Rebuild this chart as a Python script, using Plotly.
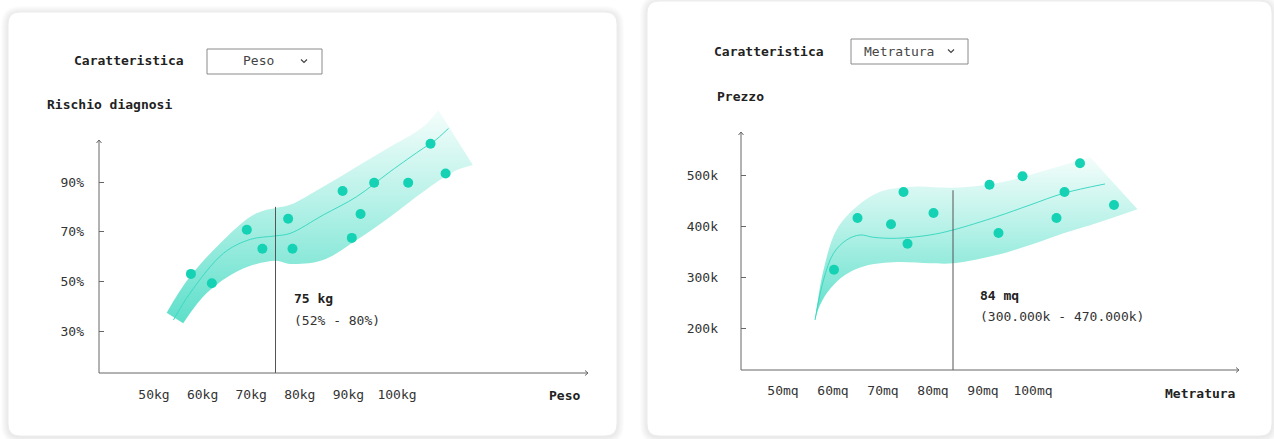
import plotly.graph_objects as go

W, H = 1274, 439
FONT = "DejaVu Sans Mono"
TEAL = "#14d2b3"
LINE_TEAL = "#3fd9c3"
TXT = "#222222"
AXIS = "#666666"

# ---------------- Rischio diagnosi / Peso ----------------
peso_ticks = [50, 60, 70, 80, 90, 100]
peso_tick_text = ["50kg", "60kg", "70kg", "80kg", "90kg", "100kg"]
rischio_ticks = [30, 50, 70, 90]
rischio_tick_text = ["30%", "50%", "70%", "90%"]

peso_pts_x = [57.6, 61.9, 69.1, 72.3, 77.6, 78.5, 88.8, 90.7, 92.5, 95.3, 102.3, 106.9, 110.0]
peso_pts_y = [53.0, 49.2, 70.8, 63.1, 75.2, 63.1, 86.4, 67.5, 77.1, 89.7, 89.7, 105.4, 93.4]

peso_fit_x = [54.0, 57.4, 64.3, 69.8, 75.0, 78.0, 84.8, 91.7, 98.6, 105.4, 107.5, 110.6]
peso_fit_y = [34.4, 45.2, 61.3, 66.9, 68.3, 69.3, 76.7, 84.1, 94.2, 103.6, 106.2, 111.6]

peso_low_x = [56.0, 60.8, 67.7, 75.0, 78.0, 84.8, 91.7, 98.6, 105.4, 112.3, 115.6]
peso_low_y = [33.1, 45.2, 54.6, 58.3, 57.0, 58.6, 66.6, 76.0, 86.1, 94.8, 96.9]
peso_up_x = [52.6, 57.4, 64.3, 69.8, 72.5, 75.0, 78.0, 84.8, 91.7, 98.6, 105.4, 108.5]
peso_up_y = [37.4, 51.9, 66.6, 76.0, 78.4, 79.5, 80.8, 88.1, 96.2, 104.2, 112.3, 119.0]

peso_sel = 75
peso_sel_lo, peso_sel_hi = 52, 80

# ---------------- Prezzo / Metratura ----------------
metr_ticks = [50, 60, 70, 80, 90, 100]
metr_tick_text = ["50mq", "60mq", "70mq", "80mq", "90mq", "100mq"]
prezzo_ticks = [200, 300, 400, 500]
prezzo_tick_text = ["200k", "300k", "400k", "500k"]

metr_pts_x = [60.2, 64.9, 71.6, 74.1, 74.9, 80.1, 91.3, 93.1, 97.9, 104.7, 106.3, 109.4, 116.2]
metr_pts_y = [314.3, 415.7, 403.3, 466.7, 365.3, 425.5, 481.0, 386.3, 497.5, 415.7, 466.7, 523.0, 441.2]

metr_fit_x = [56.4, 58.1, 60.1, 62.7, 65.4, 68.1, 72.7, 79.4, 84.0, 92.7, 99.4, 106.1, 114.4]
metr_fit_y = [215.7, 294.1, 346.5, 372.5, 382.4, 377.8, 375.9, 382.4, 392.2, 418.2, 441.2, 464.1, 482.4]

metr_low_x = [56.4, 57.4, 59.4, 62.4, 66.4, 72.8, 79.4, 84.0, 92.7, 99.4, 106.1, 113.4, 120.9]
metr_low_y = [215.7, 245.1, 276.5, 304.0, 321.6, 329.4, 326.9, 326.9, 343.1, 362.7, 385.7, 407.8, 432.7]
metr_up_x = [56.4, 58.1, 60.7, 64.7, 69.4, 76.1, 84.0, 92.7, 102.7, 111.4]
metr_up_y = [215.7, 313.7, 392.2, 437.8, 467.3, 477.1, 475.0, 483.7, 509.8, 535.3]

metr_sel = 84
metr_sel_lo, metr_sel_hi = 300, 470


def px(x):
    return x / W


def py(y):
    return 1 - y / H


def rrect(x0, y0, x1, y1, r):
    a, b, c, d = px(x0), py(y0), px(x1), py(y1)
    rx, ry = r / W, r / H
    return (f"M {a + rx},{b} L {c - rx},{b} Q {c},{b} {c},{b - ry} "
            f"L {c},{d + ry} Q {c},{d} {c - rx},{d} L {a + rx},{d} "
            f"Q {a},{d} {a},{d + ry} L {a},{b - ry} Q {a},{b} {a + rx},{b} Z")


def seg_path(points):
    return "M " + " L ".join(f"{px(x)},{py(y)}" for x, y in points)


# pixel frames of the two plot areas
L_X0, L_X1, L_Y0, L_Y1 = 99, 590, 373, 100
R_X0, R_X1, R_Y0, R_Y1 = 741, 1240, 370, 120


def kg(p):
    return 50 + (p - 154) / 4.86


def pct(p):
    return 30 + (331 - p) / 2.483


def mq(p):
    return 84 + (p - 953) / 5.0


def kp(p):
    return 200 + (328 - p) / 0.51


fig = go.Figure()

band_grad = dict(type="vertical", colorscale=[[0, "#5ddfca"], [0.55, "#b4f1e7"], [1, "#f4fdfb"]])

# left band
fig.add_trace(go.Scatter(x=peso_low_x, y=peso_low_y, mode="lines",
                         line=dict(width=0, shape="spline", smoothing=1.0),
                         xaxis="x", yaxis="y", hoverinfo="skip", showlegend=False))
fig.add_trace(go.Scatter(x=peso_up_x, y=peso_up_y, mode="lines", fill="tonexty",
                         fillgradient=dict(band_grad, start=min(peso_low_y), stop=max(peso_up_y)),
                         line=dict(width=0, shape="spline", smoothing=1.0),
                         xaxis="x", yaxis="y", hoverinfo="skip", showlegend=False))
fig.add_trace(go.Scatter(x=peso_fit_x, y=peso_fit_y, mode="lines",
                         line=dict(width=1, color=LINE_TEAL, shape="spline", smoothing=1.0),
                         xaxis="x", yaxis="y", showlegend=False))
fig.add_trace(go.Scatter(x=[peso_sel, peso_sel], y=[pct(L_Y0), peso_sel_hi], mode="lines",
                         line=dict(width=1, color="#555555"),
                         xaxis="x", yaxis="y", showlegend=False))
fig.add_trace(go.Scatter(x=peso_pts_x, y=peso_pts_y, mode="markers",
                         marker=dict(size=10, color=TEAL),
                         xaxis="x", yaxis="y", showlegend=False))

# right band
fig.add_trace(go.Scatter(x=metr_low_x, y=metr_low_y, mode="lines",
                         line=dict(width=0, shape="spline", smoothing=1.0),
                         xaxis="x2", yaxis="y2", hoverinfo="skip", showlegend=False))
fig.add_trace(go.Scatter(x=metr_up_x, y=metr_up_y, mode="lines", fill="tonexty",
                         fillgradient=dict(band_grad, start=min(metr_low_y), stop=max(metr_up_y)),
                         line=dict(width=0, shape="spline", smoothing=1.0),
                         xaxis="x2", yaxis="y2", hoverinfo="skip", showlegend=False))
fig.add_trace(go.Scatter(x=metr_fit_x, y=metr_fit_y, mode="lines",
                         line=dict(width=1, color=LINE_TEAL, shape="spline", smoothing=1.0),
                         xaxis="x2", yaxis="y2", showlegend=False))
fig.add_trace(go.Scatter(x=[metr_sel, metr_sel], y=[kp(R_Y0), metr_sel_hi], mode="lines",
                         line=dict(width=1, color="#555555"),
                         xaxis="x2", yaxis="y2", showlegend=False))
fig.add_trace(go.Scatter(x=metr_pts_x, y=metr_pts_y, mode="markers",
                         marker=dict(size=10, color=TEAL),
                         xaxis="x2", yaxis="y2", showlegend=False))

tickfont = dict(family=FONT, size=13, color="#333333")
common = dict(showgrid=False, zeroline=False, showline=False, fixedrange=True, tickfont=tickfont)

fig.update_layout(
    width=W, height=H, autosize=False,
    margin=dict(l=0, r=0, t=0, b=0),
    paper_bgcolor="white", plot_bgcolor="rgba(0,0,0,0)",
    font=dict(family=FONT, size=13, color=TXT),
    showlegend=False,
    xaxis=dict(common, domain=[px(L_X0), px(L_X1)], range=[kg(L_X0), kg(L_X1)],
               tickvals=peso_ticks, ticktext=peso_tick_text, ticks="", ticklabelstandoff=12,
               anchor="y"),
    yaxis=dict(common, domain=[py(L_Y0), py(L_Y1)], range=[pct(L_Y0), pct(L_Y1)],
               tickvals=rischio_ticks, ticktext=rischio_tick_text, ticks="inside",
               ticklen=5, tickcolor=AXIS, ticklabelstandoff=14, anchor="x"),
    xaxis2=dict(common, domain=[px(R_X0), px(R_X1)], range=[mq(R_X0), mq(R_X1)],
                tickvals=metr_ticks, ticktext=metr_tick_text, ticks="", ticklabelstandoff=11,
                anchor="y2"),
    yaxis2=dict(common, domain=[py(R_Y0), py(R_Y1)], range=[kp(R_Y0), kp(R_Y1)],
                tickvals=prezzo_ticks, ticktext=prezzo_tick_text, ticks="inside",
                ticklen=5, tickcolor=AXIS, ticklabelstandoff=22, anchor="x2"),
)

shapes = []
# card shadows and cards
for x0, y0, x1, y1 in [(8, 12, 617, 436), (647, 1, 1272, 436)]:
    for k in range(7, 0, -1):
        shapes.append(dict(type="path", xref="paper", yref="paper", layer="below",
                           path=rrect(x0 - k, y0 - k + 1, x1 + k, y1 + k + 1, 12 + k),
                           fillcolor="rgba(0,0,0,0.012)", line=dict(width=0)))
    shapes.append(dict(type="path", xref="paper", yref="paper", layer="below",
                       path=rrect(x0, y0, x1, y1, 12),
                       fillcolor="white", line=dict(width=1, color="#ececec")))

# axes with arrow tips
for (ax0, ay0, ax1, ay1) in [(99, 373, 588, 140), (741, 370, 1239, 132)]:
    shapes.append(dict(type="path", xref="paper", yref="paper",
                       path=seg_path([(ax0, ay1), (ax0, ay0), (ax1, ay0)]),
                       line=dict(width=1, color=AXIS)))
    shapes.append(dict(type="path", xref="paper", yref="paper",
                       path=seg_path([(ax0 - 2.5, ay1 + 3), (ax0, ay1), (ax0 + 2.5, ay1 + 3)]),
                       line=dict(width=1, color=AXIS)))
    shapes.append(dict(type="path", xref="paper", yref="paper",
                       path=seg_path([(ax1 - 3, ay0 - 2.5), (ax1, ay0), (ax1 - 3, ay0 + 2.5)]),
                       line=dict(width=1, color=AXIS)))

# dropdown boxes
for (bx0, by0, bx1, by1, cx, cy) in [(207, 49, 322, 74, 304, 61), (851, 39, 968, 64, 951, 51)]:
    shapes.append(dict(type="rect", xref="paper", yref="paper",
                       x0=px(bx0), y0=py(by1), x1=px(bx1), y1=py(by0),
                       line=dict(width=1, color="#8a8a8a"), fillcolor="white"))
    shapes.append(dict(type="path", xref="paper", yref="paper",
                       path=seg_path([(cx - 3, cy - 1.5), (cx, cy + 1.5), (cx + 3, cy - 1.5)]),
                       line=dict(width=1.2, color="#444444")))

fig.update_layout(shapes=shapes)


def note(text, x, y, anchor="left", color=TXT, size=13):
    return dict(text=text, x=px(x), y=py(y), xref="paper", yref="paper",
                xanchor=anchor, yanchor="middle", showarrow=False,
                font=dict(family=FONT, size=size, color=color))


annotations = [
    note("<b>Caratteristica</b>", 72, 61),
    note("Peso", 258, 61, anchor="center", color="#444444"),
    note("<b>Rischio diagnosi</b>", 45, 104),
    note("<b>Peso</b>", 582, 395, anchor="right"),
    note(f"<b>{peso_sel} kg</b>", 292, 298),
    note(f"({peso_sel_lo}% - {peso_sel_hi}%)", 292, 320, color="#333333"),
    note("<b>Caratteristica</b>", 712, 51),
    note("Metratura", 862, 51, color="#444444"),
    note("<b>Prezzo</b>", 715, 96),
    note("<b>Metratura</b>", 1238, 393, anchor="right"),
    note(f"<b>{metr_sel} mq</b>", 978, 295),
    note(f"({metr_sel_lo}.000k - {metr_sel_hi}.000k)", 978, 316, color="#333333"),
]
fig.update_layout(annotations=annotations)

fig.write_html("out.html", config={"displayModeBar": False, "staticPlot": True},
               post_script="document.body.style.margin='0';document.body.style.overflow='hidden';")
